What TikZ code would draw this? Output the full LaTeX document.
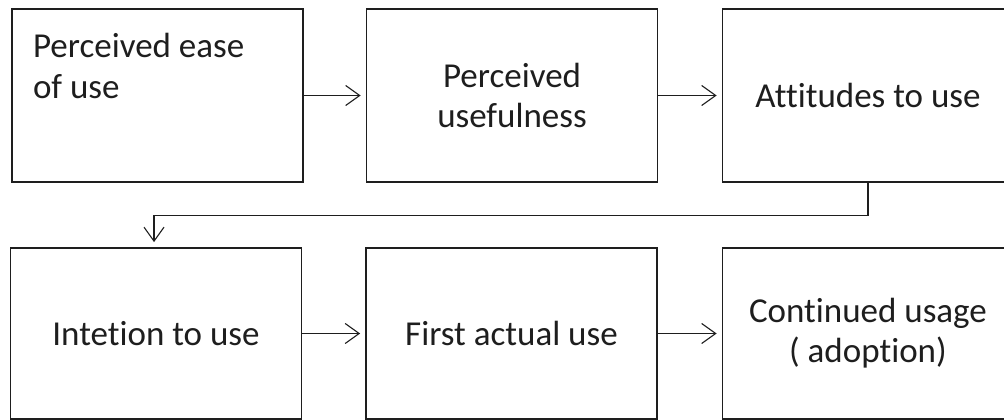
\documentclass[tikz,border=0pt]{standalone}
\usepackage{fontspec}
\setmainfont[Ligatures=NoCommon]{Carlito}
\usetikzlibrary{arrows.meta,calc}
\definecolor{ink}{HTML}{1E1E1E}
\begin{document}
\begin{tikzpicture}[x=1pt,y=-1pt,
  box/.style={draw=ink, line width=1.8pt, minimum width=291pt, inner sep=0pt,
    font=\fontsize{35}{40}\selectfont, text=ink, align=center},
  toprow/.style={minimum height=173pt},
  botrow/.style={minimum height=171pt},
  arr/.style={draw=ink, line width=1.1pt, -{Straight Barb[length=14pt,width=20pt,line width=1.1pt]}, shorten >=5pt}
]
\clip (0,0) rectangle (1004,420);
\fill[white] (0,0) rectangle (1004,420);

\node[box,toprow] (b1) at (157.5,95.5) {\begin{minipage}[c][173pt][t]{291pt}\raggedright\leftskip=21pt\rule{0pt}{49pt}Perceived ease\\of use\end{minipage}};
\node[box,toprow] (b2) at (512,95.5) {Perceived\\usefulness};
\node[box,toprow] (b3) at (868,95.5) {\raisebox{-11pt}{Attitudes to use}};

\node[box,botrow] (b4) at (156,333.5) {\raisebox{-1pt}{Intetion to use}};
\node[box,botrow] (b5) at (511.5,333.5) {\raisebox{-1pt}{First actual use}};
\node[box,botrow] (b6) at (868,333.5) {Continued usage\\( adoption)};

\draw[arr] (b1.east) -- (b2.west);
\draw[arr] (b2.east) -- (b3.west);
\draw[arr] (b3.south) -- ++(0,33) -| ([xshift=-2pt]b4.north);
\draw[arr] (b4.east) -- (b5.west);
\draw[arr] (b5.east) -- (b6.west);
\end{tikzpicture}
\end{document}
